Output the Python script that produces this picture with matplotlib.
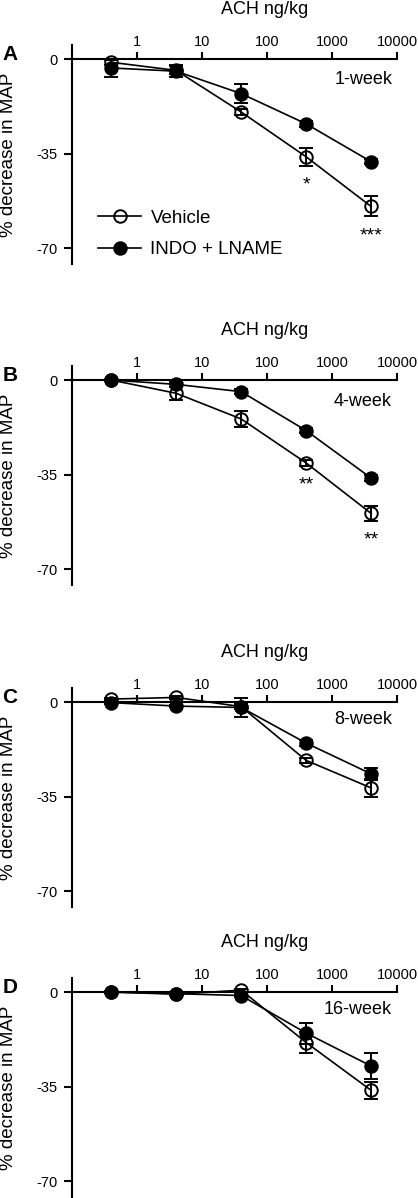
import matplotlib
matplotlib.use("Agg")
import matplotlib.pyplot as plt
from matplotlib.ticker import NullLocator, FixedLocator, FixedFormatter

plt.rcParams['font.family'] = ['Liberation Sans', 'DejaVu Sans']

# doses (ng/kg) and axis ticks
doses = [0.4, 4, 40, 400, 4000]
x_ticks = [1, 10, 100, 1000, 10000]
x_tick_labels = ['1', '10', '100', '1000', '10000']
y_ticks = [0, -35, -70]
y_tick_labels = ['0', '-35', '-70']

panel_letters = ['A', 'B', 'C', 'D']
panel_titles = ['1-week', '4-week', '8-week', '16-week']
series_names = ['Vehicle', 'INDO + LNAME']

# % decrease in MAP, mean and SEM
vehicle_1wk = [-1.2, -4.2, -19.6, -36.2, -54.6]
vehicle_1wk_err = [1.0, 1.5, 1.0, 3.3, 3.7]
indo_1wk = [-3.3, -4.5, -12.8, -24.0, -38.0]
indo_1wk_err = [3.2, 2.2, 3.4, 1.0, 1.0]

vehicle_4wk = [0.0, -4.9, -14.4, -30.7, -49.4]
vehicle_4wk_err = [0.5, 2.5, 3.0, 1.0, 2.7]
indo_4wk = [0.0, -1.6, -4.3, -18.7, -36.3]
indo_4wk_err = [0.5, 1.0, 1.0, 1.0, 1.0]

vehicle_8wk = [1.1, 1.7, -1.7, -21.6, -31.8]
vehicle_8wk_err = [0.5, 0.5, 1.0, 1.0, 3.3]
indo_8wk = [-0.2, -1.5, -2.0, -15.2, -26.6]
indo_8wk_err = [0.5, 0.5, 3.5, 1.0, 2.1]

vehicle_16wk = [0.0, -0.8, 0.7, -18.7, -36.4]
vehicle_16wk_err = [0.3, 0.3, 0.5, 3.9, 3.2]
indo_16wk = [0.0, -0.6, -1.3, -15.2, -27.4]
indo_16wk_err = [0.3, 0.3, 0.5, 3.9, 4.8]

# significance marks (vehicle vs INDO + LNAME)
stars_1wk = ['', '', '', '*', '***']
stars_4wk = ['', '', '', '**', '**']
stars_8wk = ['', '', '', '', '']
stars_16wk = ['', '', '', '', '']

vehicle_all = [vehicle_1wk, vehicle_4wk, vehicle_8wk, vehicle_16wk]
vehicle_err_all = [vehicle_1wk_err, vehicle_4wk_err, vehicle_8wk_err, vehicle_16wk_err]
indo_all = [indo_1wk, indo_4wk, indo_8wk, indo_16wk]
indo_err_all = [indo_1wk_err, indo_4wk_err, indo_8wk_err, indo_16wk_err]
stars_all = [stars_1wk, stars_4wk, stars_8wk, stars_16wk]

# layout (pixels of a 418x1198 canvas)
W, H = 418, 1198
ax_left, ax_w, ax_h = 72, 325, 219
ax_tops = [45, 366, 688, 978]
title_y = [-7.5, -8.0, -6.5, -6.5]

fig = plt.figure(figsize=(W / 100, H / 100), dpi=100)

for i in range(4):
    top = ax_tops[i]
    ax = fig.add_axes([ax_left / W, 1 - (top + ax_h) / H, ax_w / W, ax_h / H])
    ax.set_xscale('log')
    ax.set_xlim(0.1, 10000)
    ax.set_ylim(-75.9, 5.2)

    kw = dict(color='black', lw=1.2, ms=9, mew=1.4, zorder=3)
    ax.errorbar(doses, vehicle_all[i], yerr=vehicle_err_all[i], fmt='none',
                ecolor='black', elinewidth=1.4, capsize=5, capthick=1.4, zorder=2)
    ax.plot(doses, vehicle_all[i], marker='o', mfc='none', mec='black',
            label=series_names[0], **kw)
    ax.errorbar(doses, indo_all[i], yerr=indo_err_all[i], fmt='none',
                ecolor='black', elinewidth=1.4, capsize=5, capthick=1.4, zorder=4)
    ax.plot(doses, indo_all[i], marker='o', mfc='black', mec='black',
            label=series_names[1], **dict(kw, zorder=5))

    for d, v, e, s in zip(doses, vehicle_all[i], vehicle_err_all[i], stars_all[i]):
        if s:
            ax.text(d, v - e - 4.0, s, ha='center', va='top', fontsize=14)

    # axes styling: y axis on the left, x axis drawn along y = 0 with ticks on top
    for side in ['right', 'bottom']:
        ax.spines[side].set_visible(False)
    ax.spines['top'].set_position(('data', 0))
    ax.spines['top'].set_linewidth(1.5)
    ax.spines['left'].set_linewidth(1.5)
    ax.xaxis.set_ticks_position('top')
    ax.xaxis.set_label_position('top')
    ax.xaxis.set_major_locator(FixedLocator(x_ticks))
    ax.xaxis.set_major_formatter(FixedFormatter(x_tick_labels))
    ax.xaxis.set_minor_locator(NullLocator())
    ax.set_yticks(y_ticks)
    ax.set_yticklabels(y_tick_labels)
    ax.tick_params(axis='x', direction='out', length=5, width=1.5, pad=2.5, labelsize=10.5)
    ax.tick_params(axis='y', direction='out', length=6, width=1.5, pad=4.5, labelsize=10.5)

    ax.set_xlabel('ACH ng/kg', fontsize=13)
    ax.xaxis.set_label_coords(0.594, 1.16)
    ax.xaxis.label.set_va('center')
    ax.set_ylabel('% decrease in MAP', fontsize=13.5)
    ax.yaxis.set_label_coords(-0.194, 0.5)
    ax.yaxis.label.set_va('center')

    ax.text(-0.191, 0.955, panel_letters[i], transform=ax.transAxes,
            ha='center', va='center', fontsize=15, fontweight='bold')
    ax.text(0.985, title_y[i], panel_titles[i], transform=ax.get_yaxis_transform(),
            ha='right', va='center', fontsize=13)

    if i == 0:
        ax.legend(loc='upper left', bbox_to_anchor=(0.08, 0.247), frameon=False,
                  borderpad=0, borderaxespad=0, handlelength=2.3, handletextpad=0.5,
                  labelspacing=0.75, fontsize=13.5, numpoints=1)

fig.savefig('out.png', dpi=100)
